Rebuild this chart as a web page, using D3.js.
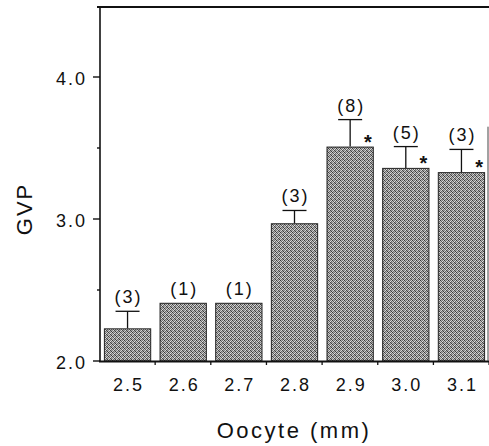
<!DOCTYPE html>
<html>
<head>
<meta charset="utf-8">
<script src="https://cdn.jsdelivr.net/npm/d3@7"></script>
<style>
  html, body { margin: 0; padding: 0; background: #fff; }
  svg { display: block; }
  text { font-family: "Liberation Sans", Arial, Helvetica, sans-serif; fill: #111; }
</style>
</head>
<body>
<svg id="chart" width="489" height="446"></svg>
<script>
// Oocyte diameter classes (mm)
const categories = ["2.5", "2.6", "2.7", "2.8", "2.9", "3.0", "3.1"];
// Mean GVP for each class
const means = [2.23, 2.41, 2.41, 2.97, 3.51, 3.36, 3.33];
// Standard error (null where n = 1)
const errors = [0.12, null, null, 0.09, 0.19, 0.15, 0.16];
// Number of oocytes per class
const counts = [3, 1, 1, 3, 8, 5, 3];
// Classes marked as significantly different
const significant = [false, false, false, false, true, true, true];
// Axis ticks
const yMajorTicks = [2.0, 3.0, 4.0];
const yMinorTicks = [2.5, 3.5];

const svg = d3.select("#chart");

const plotLeft = 100, plotRight = 489, plotTop = 6, plotBottom = 361;

const x = d3.scaleBand()
  .domain(categories)
  .range([plotLeft, plotRight])
  .paddingInner(0.15)
  .paddingOuter(0.07);

const y = d3.scaleLinear()
  .domain([2.0, 4.5])
  .range([plotBottom, plotTop]);

// halftone-like fill for the bars
const defs = svg.append("defs");
const pat = defs.append("pattern")
  .attr("id", "dither")
  .attr("patternUnits", "userSpaceOnUse")
  .attr("width", 4).attr("height", 4);
const tile = [
  ["#383838", "#b4b4b4", "#767676", "#d4d4d4"],
  ["#c4c4c4", "#5a5a5a", "#e0e0e0", "#686868"],
  ["#868686", "#d8d8d8", "#464646", "#a0a0a0"],
  ["#cccccc", "#6e6e6e", "#acacac", "#3c3c3c"]
];
tile.forEach((row, r) => row.forEach((c, k) => {
  pat.append("rect").attr("x", k).attr("y", r).attr("width", 1).attr("height", 1)
    .attr("fill", c).attr("shape-rendering", "crispEdges");
}));

const data = categories.map((c, i) => ({
  cat: c, mean: means[i], err: errors[i], n: counts[i], sig: significant[i]
}));

// bars
svg.append("g").selectAll("rect")
  .data(data)
  .join("rect")
  .attr("x", d => x(d.cat) + 0.5)
  .attr("y", d => y(d.mean) + 0.5)
  .attr("width", x.bandwidth() - 1)
  .attr("height", d => y(2.0) - y(d.mean) - 0.5)
  .attr("fill", "url(#dither)")
  .attr("stroke", "#222")
  .attr("stroke-width", 1);

// error bars (upper half only)
const capW = 24;
const eb = svg.append("g").attr("stroke", "#111").attr("stroke-width", 1.3);
data.filter(d => d.err != null).forEach(d => {
  const cx = x(d.cat) + x.bandwidth() / 2;
  eb.append("line")
    .attr("x1", cx).attr("x2", cx)
    .attr("y1", y(d.mean)).attr("y2", y(d.mean + d.err));
  eb.append("line")
    .attr("x1", cx - capW / 2).attr("x2", cx + capW / 2)
    .attr("y1", y(d.mean + d.err)).attr("y2", y(d.mean + d.err));
});

// sample size labels
svg.append("g").selectAll("text")
  .data(data)
  .join("text")
  .attr("x", d => x(d.cat) + x.bandwidth() / 2 + 1)
  .attr("y", d => y(d.err != null ? d.mean + d.err : d.mean) - 8)
  .attr("text-anchor", "middle")
  .attr("font-size", 18)
  .attr("letter-spacing", 2)
  .text(d => `(${d.n})`);

// significance markers
svg.append("g").selectAll("text")
  .data(data.filter(d => d.sig))
  .join("text")
  .attr("x", d => x(d.cat) + x.bandwidth() - 6)
  .attr("y", d => y(d.mean) + 2)
  .attr("text-anchor", "middle")
  .attr("font-size", 20)
  .attr("font-weight", "bold")
  .text("*");

// frame: left axis, baseline, top rule, partial right rule
const frame = svg.append("g").attr("stroke", "#111").attr("fill", "none");
frame.append("line").attr("x1", plotLeft).attr("x2", plotLeft).attr("y1", plotTop + 1).attr("y2", plotBottom + 1)
  .attr("stroke-width", 1.6);
frame.append("line").attr("x1", plotLeft - 1).attr("x2", plotRight).attr("y1", plotBottom + 0.5).attr("y2", plotBottom + 0.5)
  .attr("stroke-width", 1.8);
frame.append("line").attr("x1", plotLeft - 3).attr("x2", plotRight).attr("y1", plotTop + 1).attr("y2", plotTop + 1)
  .attr("stroke-width", 1.8);
frame.append("line").attr("x1", plotRight - 1).attr("x2", plotRight - 1).attr("y1", y(3.65)).attr("y2", plotBottom)
  .attr("stroke-width", 1).attr("stroke", "#444");

// y ticks
const yt = svg.append("g").attr("stroke", "#111").attr("stroke-width", 1.4);
yMajorTicks.forEach(v => {
  yt.append("line").attr("x1", plotLeft - 7).attr("x2", plotLeft).attr("y1", y(v)).attr("y2", y(v));
});
yMinorTicks.forEach(v => {
  yt.append("line").attr("x1", plotLeft - 3).attr("x2", plotLeft).attr("y1", y(v)).attr("y2", y(v));
});
svg.append("g").selectAll("text")
  .data(yMajorTicks)
  .join("text")
  .attr("x", plotLeft - 13)
  .attr("y", v => y(v) + 8)
  .attr("text-anchor", "end")
  .attr("font-size", 18)
  .attr("letter-spacing", 2)
  .text(v => v.toFixed(1));

// x ticks at category boundaries
const step = x.step();
const xt = svg.append("g").attr("stroke", "#111").attr("stroke-width", 1.3);
d3.range(1, categories.length + 1).forEach(i => {
  const px = plotLeft + i * step - 0.5;
  xt.append("line").attr("x1", px).attr("x2", px).attr("y1", plotBottom).attr("y2", plotBottom + 4);
});
svg.append("g").selectAll("text")
  .data(categories)
  .join("text")
  .attr("x", c => x(c) + x.bandwidth() / 2 + 1)
  .attr("y", 391)
  .attr("text-anchor", "middle")
  .attr("font-size", 18)
  .attr("letter-spacing", 2)
  .text(c => c);

// axis titles
svg.append("text")
  .attr("x", 294)
  .attr("y", 438)
  .attr("text-anchor", "middle")
  .attr("font-size", 22)
  .attr("letter-spacing", 2.5)
  .text("Oocyte (mm)");

svg.append("text")
  .attr("transform", "translate(32,209) rotate(-90)")
  .attr("text-anchor", "middle")
  .attr("font-size", 22)
  .attr("letter-spacing", 2)
  .text("GVP");
</script>
</body>
</html>
